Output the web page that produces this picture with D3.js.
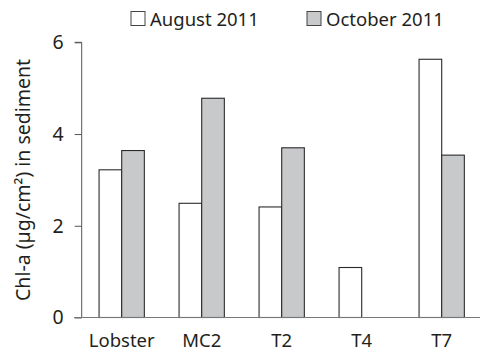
<!DOCTYPE html>
<html><head><meta charset="utf-8">
<script src="https://cdn.jsdelivr.net/npm/d3@7"></script>
<style>body{margin:0;background:#fff}svg{display:block}text{font-family:"Noto Sans","Open Sans",sans-serif;fill:#231f20}</style>
</head><body>
<script>
const categories = ["Lobster","MC2","T2","T4","T7"];
const seriesNames = ["August 2011","October 2011"];
const august = [3.22, 2.49, 2.41, 1.09, 5.63];
const october = [3.64, 4.78, 3.70, null, 3.54];
const yTicks = [0, 2, 4, 6];
const yLabel = "Chl-a (µg/cm²) in sediment";
const colors = ["#ffffff", "#c8c9cb"];

const W = 480, H = 357;
const svg = d3.select("body").append("svg").attr("width", W).attr("height", H);

const x = d3.scaleBand().domain(categories).range([81.7, 481.7]).paddingInner(0.434).paddingOuter(0.217);
const xs = d3.scaleBand().domain(seriesNames).range([0, x.bandwidth()]);
const y = d3.scaleLinear().domain([0, 6]).range([317.5, 42.3]);

const data = [august, october];
categories.forEach((c, i) => {
  seriesNames.forEach((s, j) => {
    const v = data[j][i];
    if (v == null) return;
    svg.append("rect")
      .attr("x", x(c) + xs(s))
      .attr("y", y(v))
      .attr("width", xs.bandwidth())
      .attr("height", y(0) - y(v))
      .attr("fill", colors[j])
      .attr("stroke", "#2b2b2b")
      .attr("stroke-width", 1.1);
  });
});

const font = '"Noto Sans","Open Sans",sans-serif';

// y axis
const yAxis = d3.axisLeft(y).tickValues(yTicks).tickSize(7).tickPadding(11).tickFormat(d3.format("d"));
const gy = svg.append("g").attr("transform", "translate(81.7,0)").call(yAxis);
gy.select(".domain").attr("stroke", "#555").attr("d", `M-7,${y(6)}H0V${y(0)}`);
gy.selectAll(".tick line").attr("stroke", "#555");
gy.selectAll(".tick text").attr("font-size", 19.5).attr("fill", "#231f20").style("font-family", font);

// x axis
const xAxis = d3.axisBottom(x).tickSize(0).tickPadding(16);
const gx = svg.append("g").attr("transform", `translate(0,${y(0)})`).call(xAxis);
gx.select(".domain").attr("stroke", "#777").attr("d", `M74,0H480`);
gx.selectAll(".tick text").attr("font-size", 18.5).attr("fill", "#231f20").style("font-family", font);

// y label
svg.append("text")
  .attr("transform", `translate(30,${(y(0)+y(6))/2}) rotate(-90)`)
  .attr("text-anchor", "middle")
  .attr("font-size", 19.5)
  .text(yLabel);

// legend
const legendX = [131, 307];
seriesNames.forEach((s, j) => {
  svg.append("rect").attr("x", legendX[j]).attr("y", 11.5).attr("width", 14).attr("height", 14)
    .attr("fill", colors[j]).attr("stroke", "#444").attr("stroke-width", 1);
  svg.append("text").attr("x", legendX[j] + 19).attr("y", 26).attr("font-size", 18.5).text(s);
});
</script>
</body></html>
